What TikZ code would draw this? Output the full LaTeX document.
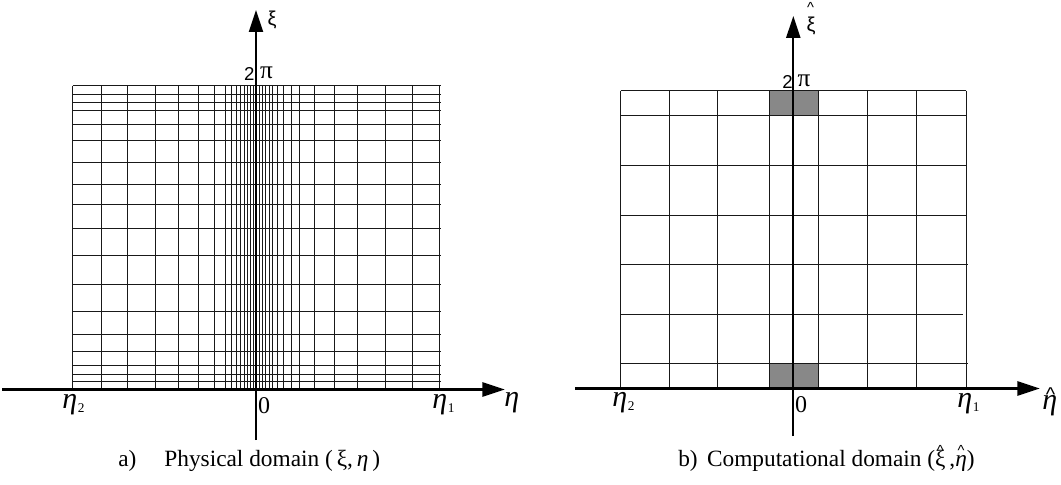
\documentclass[tikz,border=0pt]{standalone}
\usepackage{fontspec}
\setmainfont{Liberation Serif}
\newfontfamily\sansf{Liberation Sans}
\usetikzlibrary{arrows.meta}
\definecolor{cellgray}{HTML}{888888}
\newsavebox\hatbox
\newcommand\hatc[2]{\sbox\hatbox{#2}\leavevmode\rlap{\usebox\hatbox}\raisebox{#1}{\makebox[\wd\hatbox]{\fontsize{11}{12}\selectfont\sansf\textasciicircum}}}
\newcommand\sublab[1]{\kern0.5pt\raisebox{-3.5pt}{\fontsize{10}{11}\selectfont\upshape #1}}
\begin{document}
\begin{tikzpicture}[x=0.75pt,y=-0.75pt,
 gridline/.style={line width=0.75pt,draw=black!90},
 haxis/.style={line width=2pt,-{Triangle[length=17pt,width=10.5pt]}},
 vaxis/.style={line width=1.7pt,-{Triangle[length=16.5pt,width=10.5pt]}},
 lab/.style={inner sep=0pt,anchor=base west,font=\fontsize{22.5}{25}\selectfont\itshape},
 zero/.style={inner sep=0pt,font=\fontsize{18}{20}\selectfont},
 captext/.style={inner sep=0pt,anchor=base west,font=\fontsize{17.5}{20}\selectfont},
 two/.style={inner sep=0pt,font=\sansf\fontsize{14}{16}\selectfont},
 pilab/.style={inner sep=0pt,font=\fontsize{19}{21}\selectfont},
 xilab/.style={inner sep=0pt,font=\sansf\fontsize{15}{17}\selectfont},
]
\useasboundingbox (0,0) rectangle (1061,485);

% ---------- left panel: physical domain ----------
\foreach \x in {72.7,101,127.3,155.7,178.3,198.5,214,225.5,231.7,236.7,240.7,244.2,247.7,250.7,253.7,256,259.5,262.7,265.7,269,272.5,277,283,291.5,299.5,314.7,334.2,357.7,385,412.7,439.3}
  \draw[gridline] (\x,86) -- (\x,389.5);
\foreach \y in {86,94.5,102.5,111,125,140.5,162,184.5,204.5,228.5,255,284,311.7,334.5,351.7,365,374,381.7}
  \draw[gridline] (72.7,\y) -- (440.5,\y);

\coordinate (hL0) at (2,389.5);
\coordinate (hL1) at (505,389.5);
\coordinate (vL0) at (256,440);
\coordinate (vL1) at (256,10);
\draw[haxis] (hL0) -- (hL1);
\draw[vaxis] (vL0) -- (vL1);

\node[xilab] (xiL) at (272,20) {ξ};
\node[two] (twoL) at (249.3,74) {2};
\node[pilab] (piL) at (266.5,73) {π};
\node[lab] (eta2L) at (62,408) {η\sublab{2}};
\node[lab] (eta1L) at (432,408) {η\sublab{1}};
\node[lab] (etaL) at (504,406) {η};
\node[zero] (zeroL) at (264,405.5) {0};
\node[captext] (capA) at (118,466) {a)\hspace{21pt}Physical domain (\,ξ,\,\textit{η}\,)};

% ---------- right panel: computational domain ----------
\draw[gridline,fill=cellgray] (769.3,90.7) rectangle (818.3,115.7);
\draw[gridline,fill=cellgray] (769.3,363.7) rectangle (818.3,388.5);
\foreach \x in {620.7,669.3,717.7,769.3,818.3,867.3,916,966}
  \draw[gridline] (\x,90.7) -- (\x,388.5);
\foreach \y/\e in {90.7/966,115.7/967,165.7/966,215/966,264.3/968.3,314/962.7,363.7/968}
  \draw[gridline] (620.7,\y) -- (\e,\y);

\coordinate (hR0) at (575,388.5);
\coordinate (hR1) at (1040,388.5);
\coordinate (vR0) at (793.3,436);
\coordinate (vR1) at (793.3,16);
\draw[haxis] (hR0) -- (hR1);
\draw[vaxis] (vR0) -- (vR1);

\node[xilab] (xiR) at (811,26) {ξ};
\node[inner sep=0pt,font=\sansf\fontsize{11}{12}\selectfont] (xiRhat) at (810.5,7) {\textasciicircum};
\node[two] (twoR) at (787.5,81.5) {2};
\node[pilab] (piR) at (804,80.5) {π};
\node[lab] (eta2R) at (612,406) {η\sublab{2}};
\node[lab] (eta1R) at (957,407) {η\sublab{1}};
\node[lab] (etaR) at (1042,409) {η};
\node[inner sep=0pt,font=\sansf\fontsize{15}{16}\selectfont] (etaRhat) at (1050.5,395) {\textasciicircum};
\node[zero] (zeroR) at (801,404.5) {0};
\node[captext] (capB) at (678,466) {b)\hspace{7pt}Computational domain (\hatc{0.45em}{ξ}\,,\hatc{0.45em}{\textit{η}})};
\end{tikzpicture}
\end{document}
